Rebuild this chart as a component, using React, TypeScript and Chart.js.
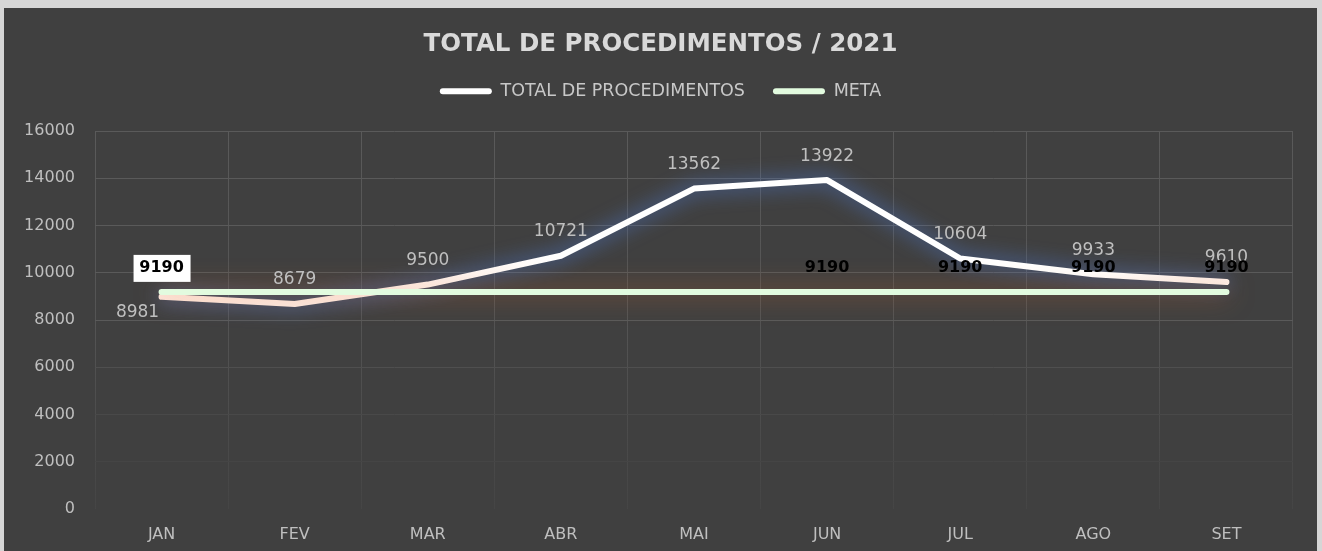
import React, { useEffect, useRef } from "react";
import { Chart, registerables } from "chart.js";

Chart.register(...registerables);

const months = ["JAN", "FEV", "MAR", "ABR", "MAI", "JUN", "JUL", "AGO", "SET"];
const totalProcedimentos = [8981, 8679, 9500, 10721, 13562, 13922, 10604, 9933, 9610];
const meta = [9190, 9190, 9190, 9190, 9190, 9190, 9190, 9190, 9190];
const metaLabelVisible = [true, false, false, false, false, true, true, true, true];
const yMin = 0;
const yMax = 16000;
const yStep = 2000;

const FONT = "'DejaVu Sans', 'Open Sans', sans-serif";

const glowPlugin = {
  id: "glow",
  beforeDatasetDraw(chart: any, args: any) {
    const ctx = chart.ctx;
    ctx.save();
    if (args.index === 0) {
      ctx.shadowColor = "rgba(80,130,230,0.9)";
      ctx.shadowBlur = 20;
    } else {
      ctx.shadowColor = "rgba(225,110,40,0.6)";
      ctx.shadowBlur = 26;
    }
  },
  afterDatasetDraw(chart: any) {
    chart.ctx.restore();
  },
};

const legendSpacePlugin = {
  id: "legendSpace",
  beforeInit(chart: any) {
    const legend = chart.legend;
    if (!legend) return;
    const orig = legend.fit;
    legend.fit = function () {
      orig.call(this);
      this.height = 76.6;
    };
  },
};

const labelPlugin = {
  id: "pointLabels",
  afterDatasetsDraw(chart: any) {
    const ctx = chart.ctx;
    ctx.save();
    ctx.textAlign = "center";
    ctx.textBaseline = "middle";
    const m0 = chart.getDatasetMeta(0);
    ctx.font = `17px ${FONT}`;
    ctx.fillStyle = "#bfbfbf";
    m0.data.forEach((pt: any, i: number) => {
      if (i === 0) {
        ctx.fillText(String(totalProcedimentos[i]), pt.x - 24, pt.y + 16);
      } else {
        ctx.fillText(String(totalProcedimentos[i]), pt.x, pt.y - 24);
      }
    });
    const m1 = chart.getDatasetMeta(1);
    ctx.font = `bold 16px ${FONT}`;
    m1.data.forEach((pt: any, i: number) => {
      if (!metaLabelVisible[i]) return;
      const x = pt.x;
      const y = pt.y - 24;
      if (i === 0) {
        ctx.fillStyle = "#ffffff";
        ctx.fillRect(x - 28, y - 13, 57, 27);
      }
      ctx.fillStyle = "#000000";
      ctx.fillText(String(meta[i]), x, y);
    });
    ctx.restore();
  },
};

export default function App() {
  const canvasRef = useRef<HTMLCanvasElement | null>(null);

  useEffect(() => {
    if (!canvasRef.current) return;
    const chart = new Chart(canvasRef.current, {
      type: "line",
      data: {
        labels: months,
        datasets: [
          {
            label: "TOTAL DE PROCEDIMENTOS",
            data: totalProcedimentos,
            yAxisID: "y",
            order: 1,
            borderColor: (context: any) => {
              const c = context.chart;
              const ca = c.chartArea;
              if (!ca) return "#ffffff";
              const g = c.ctx.createLinearGradient(ca.left, 0, ca.right, 0);
              g.addColorStop(0, "#fde6dc");
              g.addColorStop(0.22, "#fdede6");
              g.addColorStop(0.38, "#ffffff");
              g.addColorStop(0.85, "#ffffff");
              g.addColorStop(1, "#fde8df");
              return g;
            },
            backgroundColor: "#ffffff",
            borderWidth: 6,
            pointRadius: 0,
            tension: 0,
            borderJoinStyle: "round",
            borderCapStyle: "round",
          },
          {
            label: "META",
            data: meta,
            yAxisID: "y",
            order: 0,
            borderColor: "#e2fbdf",
            backgroundColor: "#e2fbdf",
            borderWidth: 6,
            pointRadius: 0,
            tension: 0,
            borderCapStyle: "round",
          },
        ],
      },
      options: {
        responsive: false,
        animation: false,
        layout: { padding: { left: 0, right: 0, top: 0, bottom: 0 } },
        plugins: {
          title: {
            display: true,
            text: "TOTAL DE PROCEDIMENTOS / 2021",
            color: "#d9d9d9",
            font: { family: FONT, size: 24.5, weight: "bold" },
            padding: { top: 22, bottom: -5 },
          },
          legend: {
            display: true,
            position: "top",
            labels: {
              color: "#c8c8c8",
              font: { family: FONT, size: 17.5 },
              boxWidth: 52,
              boxHeight: 6,
              padding: 28,
              useBorderRadius: true,
              borderRadius: 3,
              generateLabels: (chart: any) =>
                chart.data.datasets.map((ds: any, i: number) => ({
                  text: ds.label,
                  fillStyle: ds.backgroundColor,
                  strokeStyle: ds.backgroundColor,
                  lineWidth: 0,
                  fontColor: "#c8c8c8",
                  hidden: false,
                  datasetIndex: i,
                  borderRadius: 3,
                })),
            },
          },
          tooltip: { enabled: false },
        },
        scales: {
          x: {
            offset: true,
            grid: {
              offset: true,
              drawTicks: false,
              lineWidth: 1,
              color: (context: any) => {
                const c = context.chart;
                const ca = c.chartArea;
                if (!ca) return "#575757";
                const g = c.ctx.createLinearGradient(0, ca.top, 0, ca.bottom);
                g.addColorStop(0, "#5a5a5a");
                g.addColorStop(0.5, "#545454");
                g.addColorStop(1, "#454545");
                return g;
              },
            },
            border: { display: false },
            ticks: {
              color: "#bfbfbf",
              font: { family: FONT, size: 16 },
              padding: 16,
            },
            afterFit: (scale: any) => {
              scale.height = 42;
            },
          },
          y: {
            position: "left",
            min: yMin,
            max: yMax,
            ticks: {
              stepSize: yStep,
              color: "#bfbfbf",
              font: { family: FONT, size: 16 },
              padding: 20,
              callback: (value: any) => String(value),
            },
            grid: {
              drawTicks: false,
              lineWidth: 1,
              color: (context: any) => {
                const v = context.tick ? context.tick.value : 0;
                if (v >= 8000) return "#5a5a5a";
                if (v === 6000) return "#4f4f4f";
                if (v === 4000) return "#494949";
                if (v === 2000) return "#454545";
                return "rgba(0,0,0,0)";
              },
            },
            border: { display: false },
            afterFit: (scale: any) => {
              scale.width = 91;
            },
          },
          yRightSpace: {
            position: "right",
            display: true,
            min: yMin,
            max: yMax,
            grid: { display: false, drawTicks: false },
            ticks: { display: false },
            border: { display: false },
            afterFit: (scale: any) => {
              scale.width = 24;
            },
          },
        },
      },
      plugins: [legendSpacePlugin, glowPlugin, labelPlugin],
    } as any);
    return () => chart.destroy();
  }, []);

  return (
    <div
      style={{
        position: "absolute",
        left: 0,
        top: 0,
        width: 1322,
        height: 551,
        background: "#d6d6d6",
        overflow: "hidden",
      }}
    >
      <div
        style={{
          position: "absolute",
          left: 4,
          top: 8,
          width: 1313,
          height: 543,
          background: "#404040",
        }}
      >
        <canvas ref={canvasRef} width={1313} height={543} style={{ display: "block" }} />
      </div>
    </div>
  );
}
